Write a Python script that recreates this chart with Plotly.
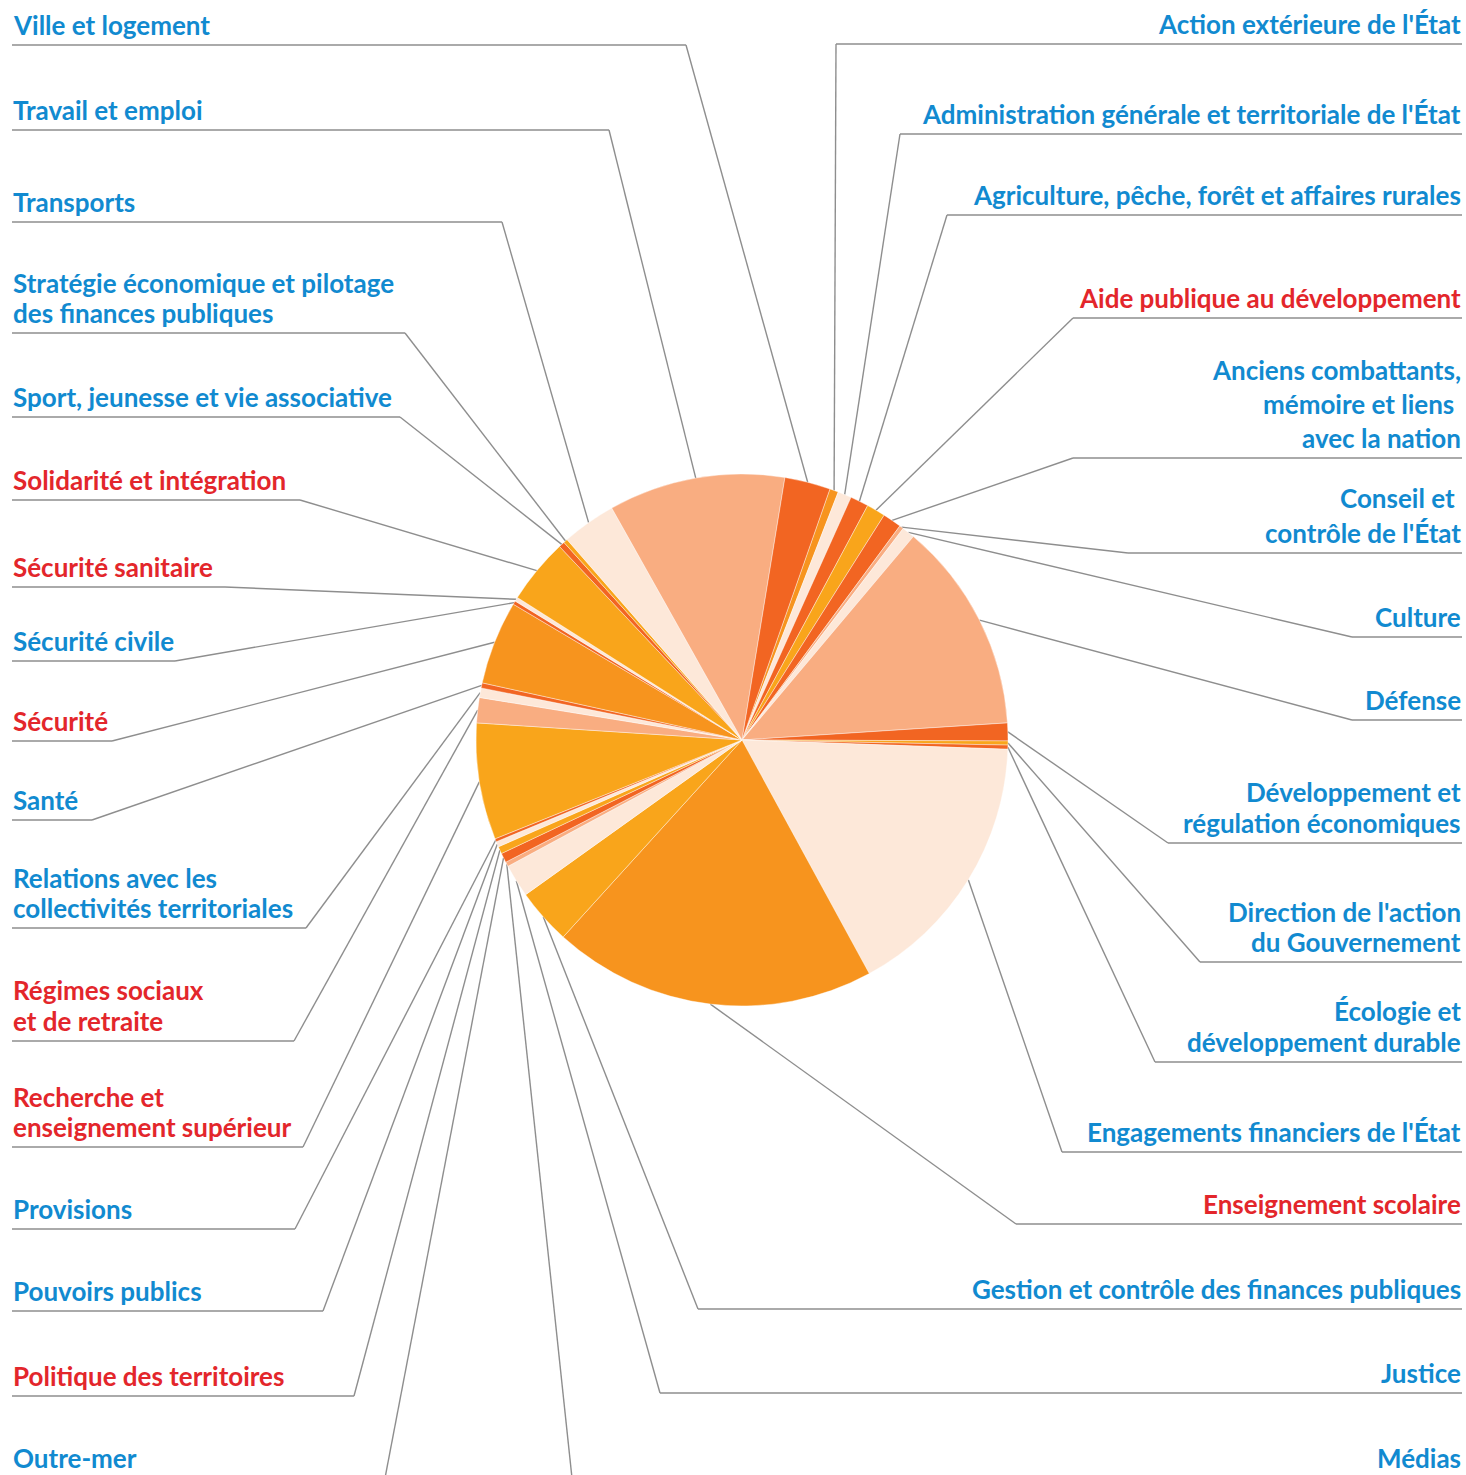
import math
import plotly.graph_objects as go

# ---------------- data ----------------
categories = [
    "Action extérieure de l'État",
    "Administration générale et territoriale de l'État",
    "Agriculture, pêche, forêt et affaires rurales",
    "Aide publique au développement",
    "Anciens combattants, mémoire et liens avec la nation",
    "Conseil et contrôle de l'État",
    "Culture",
    "Défense",
    "Développement et régulation économiques",
    "Direction de l'action du Gouvernement",
    "Écologie et développement durable",
    "Engagements financiers de l'État",
    "Enseignement scolaire",
    "Gestion et contrôle des finances publiques",
    "Justice",
    "Médias",
    "Outre-mer",
    "Politique des territoires",
    "Pouvoirs publics",
    "Provisions",
    "Recherche et enseignement supérieur",
    "Régimes sociaux et de retraite",
    "Relations avec les collectivités territoriales",
    "Santé",
    "Sécurité",
    "Sécurité civile",
    "Sécurité sanitaire",
    "Solidarité et intégration",
    "Sport, jeunesse et vie associative",
    "Stratégie économique et pilotage des finances publiques",
    "Transports",
    "Travail et emploi",
    "Ville et logement",
]

# share of the total (%)
values = [
    0.53, 0.83, 1.11, 1.14, 1.14, 0.25, 0.78, 12.83, 1.08, 0.25, 0.25,
    16.50, 19.67, 3.39, 2.00, 0.28, 0.58, 0.44, 0.33, 0.19, 7.08, 1.53,
    0.58, 0.31, 5.08, 0.22, 0.25, 3.97, 0.36, 0.25, 3.28, 10.72, 2.78,
]

highlighted = [
    "Aide publique au développement",
    "Enseignement scolaire",
    "Politique des territoires",
    "Recherche et enseignement supérieur",
    "Régimes sociaux et de retraite",
    "Sécurité",
    "Sécurité sanitaire",
    "Solidarité et intégration",
]

# ---------------- styles ----------------
SALMON = "#f9ad81"
RED_OR = "#f26522"
ORANGE = "#f7941e"
YELLOW = "#f9a51b"
CREAM = "#fde8d9"

slice_colors = [
    ORANGE, CREAM, RED_OR, YELLOW, RED_OR, SALMON, CREAM, SALMON, RED_OR, YELLOW, RED_OR,
    CREAM, ORANGE, YELLOW, CREAM, SALMON, RED_OR, YELLOW, CREAM, RED_OR, YELLOW, SALMON,
    CREAM, RED_OR, ORANGE, RED_OR, CREAM, YELLOW, RED_OR, YELLOW, CREAM, SALMON, RED_OR,
]

BLUE_TXT = "#118ad0"
RED_TXT = "#e3262b"
LINE_COL = "#8e8e8e"
FONT = "Lato, 'Open Sans', sans-serif"
FONT_SIZE = 26

W, H = 1466, 1475
CX, CY, R = 742, 740, 266
ROTATION = 19.3
LEFT_X, RIGHT_X = 12, 1462

# display lines of each label
label_lines = {
    "Anciens combattants, mémoire et liens avec la nation":
        ["Anciens combattants,", "mémoire et liens ", "avec la nation"],
    "Conseil et contrôle de l'État": ["Conseil et ", "contrôle de l'État"],
    "Développement et régulation économiques": ["Développement et", "régulation économiques"],
    "Direction de l'action du Gouvernement": ["Direction de l'action", "du Gouvernement"],
    "Écologie et développement durable": ["Écologie et", "développement durable"],
    "Stratégie économique et pilotage des finances publiques":
        ["Stratégie économique et pilotage", "des finances publiques"],
    "Relations avec les collectivités territoriales": ["Relations avec les", "collectivités territoriales"],
    "Régimes sociaux et de retraite": ["Régimes sociaux", "et de retraite"],
    "Recherche et enseignement supérieur": ["Recherche et", "enseignement supérieur"],
}

# label placement: side, rule y (px), elbow x (px), line spacing (px)
label_pos = {
    "Action extérieure de l'État": ("r", 44, 836, 0),
    "Administration générale et territoriale de l'État": ("r", 134, 900, 0),
    "Agriculture, pêche, forêt et affaires rurales": ("r", 215, 947, 0),
    "Aide publique au développement": ("r", 318, 1073, 0),
    "Anciens combattants, mémoire et liens avec la nation": ("r", 458, 1073, 34),
    "Conseil et contrôle de l'État": ("r", 553, 1128, 35),
    "Culture": ("r", 637, 1352, 0),
    "Défense": ("r", 720, 1352, 0),
    "Développement et régulation économiques": ("r", 843, 1168, 31),
    "Direction de l'action du Gouvernement": ("r", 962, 1200, 30),
    "Écologie et développement durable": ("r", 1062, 1155, 31),
    "Engagements financiers de l'État": ("r", 1152, 1062, 0),
    "Enseignement scolaire": ("r", 1224, 1016, 0),
    "Gestion et contrôle des finances publiques": ("r", 1309, 698, 0),
    "Justice": ("r", 1393, 660, 0),
    "Médias": ("r", 1478, 572, 0),
    "Outre-mer": ("l", 1478, 385, 0),
    "Politique des territoires": ("l", 1396, 354, 0),
    "Pouvoirs publics": ("l", 1311, 323, 0),
    "Provisions": ("l", 1229, 295, 0),
    "Recherche et enseignement supérieur": ("l", 1147, 303, 30),
    "Régimes sociaux et de retraite": ("l", 1041, 294, 31),
    "Relations avec les collectivités territoriales": ("l", 928, 306, 30),
    "Santé": ("l", 820, 92, 0),
    "Sécurité": ("l", 741, 112, 0),
    "Sécurité civile": ("l", 661, 175, 0),
    "Sécurité sanitaire": ("l", 587, 225, 0),
    "Solidarité et intégration": ("l", 500, 300, 0),
    "Sport, jeunesse et vie associative": ("l", 417, 400, 0),
    "Stratégie économique et pilotage des finances publiques": ("l", 333, 405, 30),
    "Transports": ("l", 222, 502, 0),
    "Travail et emploi": ("l", 130, 609, 0),
    "Ville et logement": ("l", 45, 686, 0),
}
TEXT_OFFSET = 20  # px between rule and centre of last text line


def px(x):
    return x / W


def py(y):
    return 1 - y / H


fig = go.Figure()
fig.add_trace(go.Pie(
    labels=categories,
    values=values,
    sort=False,
    direction="clockwise",
    rotation=ROTATION,
    marker=dict(colors=slice_colors, line=dict(color="white", width=0.4)),
    textinfo="none",
    hoverinfo="label+percent",
    showlegend=False,
    domain=dict(x=[px(CX - R), px(CX + R)], y=[py(CY + R), py(CY - R)]),
))

shapes = []
annotations = []
total = sum(values)
cum = 0.0
for cat, v in zip(categories, values):
    mid = math.radians(ROTATION + 360.0 * (cum + v / 2.0) / total)
    cum += v
    ex = CX + R * math.sin(mid)
    ey = CY - R * math.cos(mid)
    side, rule_y, elbow_x, spacing = label_pos[cat]
    if side == "l":
        x0, x1 = LEFT_X, elbow_x
    else:
        x0, x1 = elbow_x, RIGHT_X
    # horizontal rule
    shapes.append(dict(type="line", xref="paper", yref="paper",
                       x0=px(x0), x1=px(x1), y0=py(rule_y), y1=py(rule_y),
                       line=dict(color=LINE_COL, width=1.4), layer="below"))
    # leader to the slice
    shapes.append(dict(type="line", xref="paper", yref="paper",
                       x0=px(elbow_x), x1=px(ex), y0=py(rule_y), y1=py(ey),
                       line=dict(color=LINE_COL, width=1.4), layer="below"))
    lines = label_lines.get(cat, [cat])
    color = RED_TXT if cat in highlighted else BLUE_TXT
    n = len(lines)
    for i, t in enumerate(lines):
        yc = rule_y - TEXT_OFFSET - (n - 1 - i) * spacing
        annotations.append(dict(
            xref="paper", yref="paper",
            x=px(LEFT_X if side == "l" else RIGHT_X), y=py(yc),
            xanchor="left" if side == "l" else "right", yanchor="middle",
            text=t, showarrow=False, borderpad=0,
            font=dict(family=FONT, size=FONT_SIZE, color=color, weight="bold"),
        ))

fig.update_layout(
    width=W, height=H,
    margin=dict(l=0, r=0, t=0, b=0),
    paper_bgcolor="white", plot_bgcolor="white",
    shapes=shapes, annotations=annotations,
    showlegend=False,
)

fig.write_html(
    "out.html",
    config={"displayModeBar": False},
    post_script="document.body.style.margin='0';document.body.style.overflow='hidden';",
)
